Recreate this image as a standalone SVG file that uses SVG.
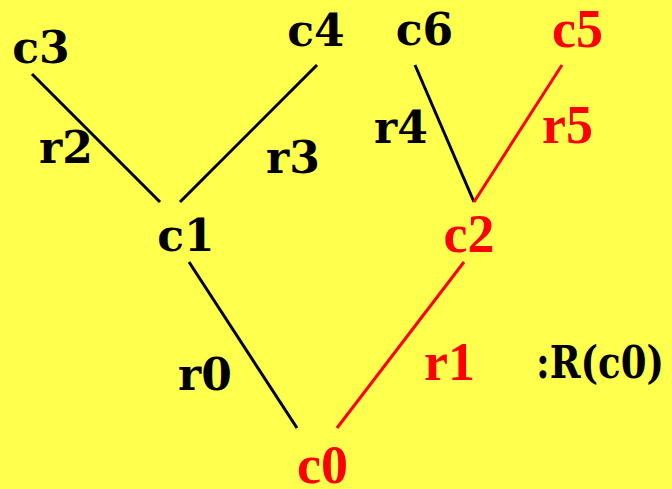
<svg xmlns="http://www.w3.org/2000/svg" width="672" height="489" viewBox="0 0 672 489">
<style>
.b{font-family:"DejaVu Serif",serif;font-weight:bold;font-size:44px;fill:#000;text-anchor:middle}
.r{font-family:"Liberation Serif",serif;font-weight:bold;font-size:54px;fill:#ff0000;text-anchor:middle}
.e{stroke-width:3;fill:none}
.ek{stroke:#000}
.er{stroke:#ff0000}
</style>
<rect x="0" y="0" width="672" height="489" fill="#ffff4d"/>
<g id="connectors">
<line class="e ek" x1="32" y1="74" x2="160" y2="202"/>
<line class="e ek" x1="317" y1="65" x2="180" y2="202"/>
<line class="e ek" x1="415" y1="65" x2="474" y2="202"/>
<line class="e er" x1="562" y1="65" x2="474" y2="202"/>
<line class="e ek" x1="189" y1="262" x2="297" y2="428"/>
<line class="e er" x1="464" y1="262" x2="337" y2="428"/>
<text class="b" x="66" y="163">r2</text>
<text class="b" x="293" y="173">r3</text>
<text class="b" x="401" y="143">r4</text>
<text class="r" x="567.5" y="143">r5</text>
<text class="b" x="205" y="390">r0</text>
<text class="r" x="449.5" y="380">r1</text>
</g>
<g id="c3"><text class="b" x="41" y="63">c3</text></g>
<g id="c4"><text class="b" x="316" y="46">c4</text></g>
<g id="c6"><text class="b" x="424.5" y="45">c6</text></g>
<g id="c5"><text class="r" x="577.5" y="47">c5</text></g>
<g id="c1"><text class="b" x="186" y="251">c1</text></g>
<g id="c2"><text class="r" x="469" y="252">c2</text></g>
<g id="c0"><text class="r" x="322.5" y="483">c0</text></g>
<g id="label"><text class="b" x="536" y="378" style="text-anchor:start" textLength="128" lengthAdjust="spacingAndGlyphs">:R(c0)</text></g>
</svg>
